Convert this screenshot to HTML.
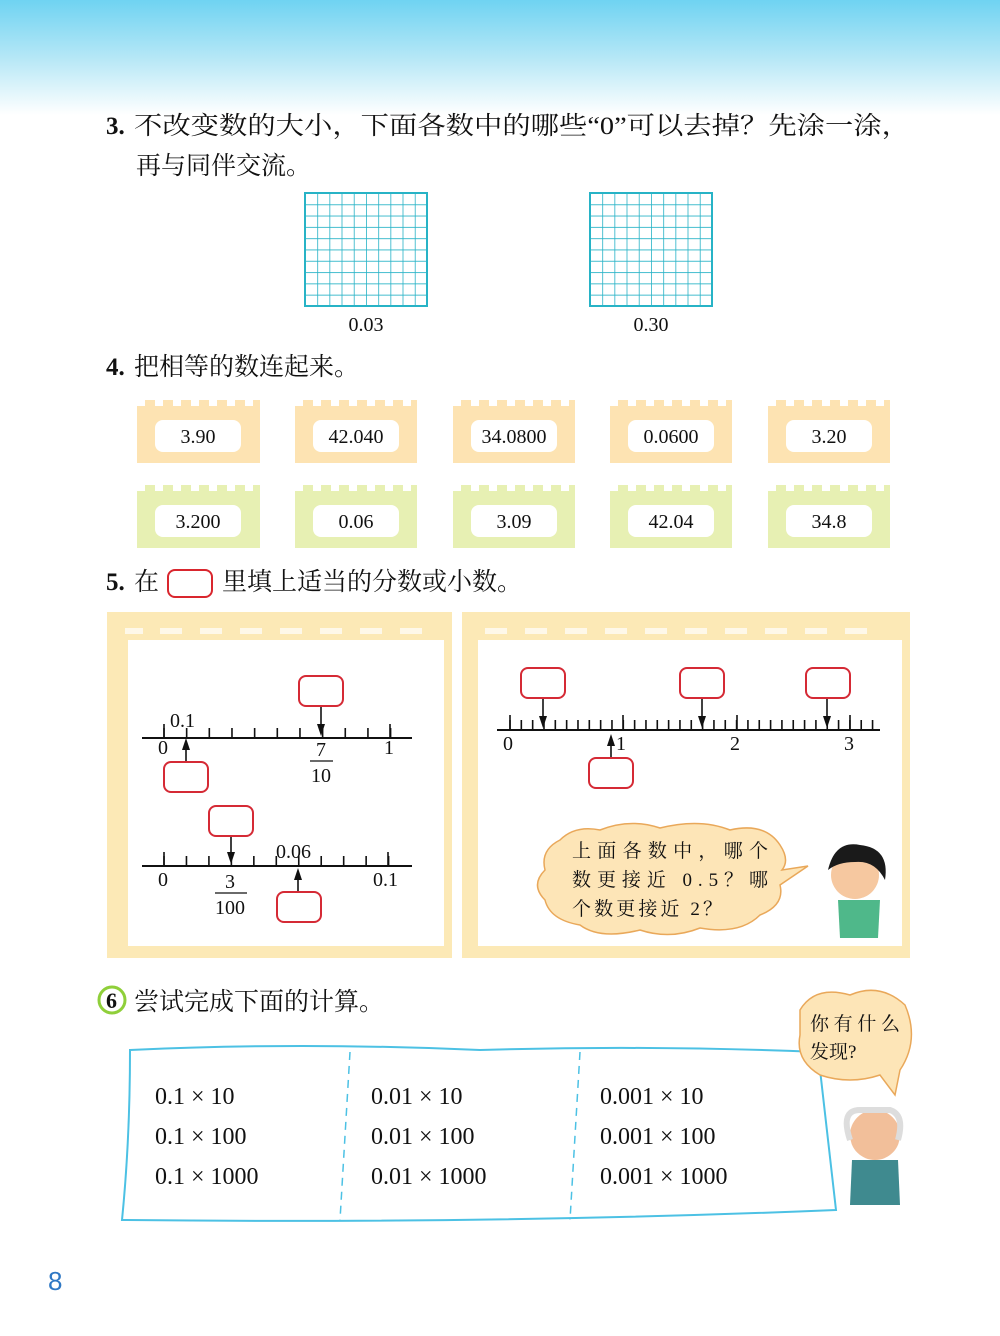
<!DOCTYPE html>
<html><head><meta charset="utf-8"><style>
html,body{margin:0;padding:0;background:#fff}
svg{display:block}
text{font-family:"Liberation Serif","Noto Serif CJK SC",serif;fill:#111}
.cn{font-family:"Liberation Serif","Noto Serif CJK SC",serif}
</style></head><body>
<svg width="1000" height="1336" viewBox="0 0 1000 1336" xmlns="http://www.w3.org/2000/svg">
<defs>
<linearGradient id="sky" x1="0" y1="0" x2="0" y2="1">
<stop offset="0" stop-color="#6fd3f2"/><stop offset="0.5" stop-color="#b5e7f6"/><stop offset="1" stop-color="#ffffff"/>
</linearGradient>
<pattern id="g1" x="305" y="193" width="12.2" height="11.3" patternUnits="userSpaceOnUse">
<path d="M0 0H12.2M0 0V11.3" stroke="#27b3c6" stroke-width="1.6" fill="none"/></pattern>
<pattern id="g2" x="590" y="193" width="12.2" height="11.3" patternUnits="userSpaceOnUse">
<path d="M0 0H12.2M0 0V11.3" stroke="#27b3c6" stroke-width="1.6" fill="none"/></pattern>
</defs>
<rect x="0" y="0" width="1000" height="115" fill="url(#sky)"/>

<!-- Q3 -->
<text x="106" y="134" font-size="25" font-weight="bold">3.</text>
<text x="134" y="134" font-size="25" class="cn" textLength="776" lengthAdjust="spacingAndGlyphs">不改变数的大小，下面各数中的哪些“0”可以去掉？先涂一涂，</text>
<text x="136" y="174" font-size="25" class="cn">再与同伴交流。</text>
<rect x="305" y="193" width="122" height="113" fill="url(#g1)" stroke="#27b3c6" stroke-width="2"/>
<rect x="590" y="193" width="122" height="113" fill="url(#g2)" stroke="#27b3c6" stroke-width="2"/>
<text x="366" y="331" font-size="20" text-anchor="middle">0.03</text>
<text x="651" y="331" font-size="20" text-anchor="middle">0.30</text>

<!-- Q4 -->
<text x="106" y="375" font-size="25" font-weight="bold">4.</text>
<text x="134" y="375" font-size="25" class="cn">把相等的数连起来。</text>
<g font-size="20">
<g fill="#fde3b2">
<path d="M137 463V406h8v-6h10v6h8v-6h10v6h8v-6h10v6h8v-6h10v6h8v-6h10v6h8v-6h10v6h8v-6h7v63Z"/>
<path d="M295 463V406h8v-6h10v6h8v-6h10v6h8v-6h10v6h8v-6h10v6h8v-6h10v6h8v-6h10v6h8v-6h6v63Z"/>
<path d="M453 463V406h8v-6h10v6h8v-6h10v6h8v-6h10v6h8v-6h10v6h8v-6h10v6h8v-6h10v6h8v-6h6v63Z"/>
<path d="M610 463V406h8v-6h10v6h8v-6h10v6h8v-6h10v6h8v-6h10v6h8v-6h10v6h8v-6h10v6h8v-6h6v63Z"/>
<path d="M768 463V406h8v-6h10v6h8v-6h10v6h8v-6h10v6h8v-6h10v6h8v-6h10v6h8v-6h10v6h8v-6h6v63Z"/>
</g>
<g fill="#e7f0b3">
<path d="M137 548V491h8v-6h10v6h8v-6h10v6h8v-6h10v6h8v-6h10v6h8v-6h10v6h8v-6h10v6h8v-6h7v63Z"/>
<path d="M295 548V491h8v-6h10v6h8v-6h10v6h8v-6h10v6h8v-6h10v6h8v-6h10v6h8v-6h10v6h8v-6h6v63Z"/>
<path d="M453 548V491h8v-6h10v6h8v-6h10v6h8v-6h10v6h8v-6h10v6h8v-6h10v6h8v-6h10v6h8v-6h6v63Z"/>
<path d="M610 548V491h8v-6h10v6h8v-6h10v6h8v-6h10v6h8v-6h10v6h8v-6h10v6h8v-6h10v6h8v-6h6v63Z"/>
<path d="M768 548V491h8v-6h10v6h8v-6h10v6h8v-6h10v6h8v-6h10v6h8v-6h10v6h8v-6h10v6h8v-6h6v63Z"/>
</g>
<g fill="#fff">
<rect x="155" y="420" width="86" height="32" rx="8"/><rect x="313" y="420" width="86" height="32" rx="8"/>
<rect x="471" y="420" width="86" height="32" rx="8"/><rect x="628" y="420" width="86" height="32" rx="8"/>
<rect x="786" y="420" width="86" height="32" rx="8"/>
<rect x="155" y="505" width="86" height="32" rx="8"/><rect x="313" y="505" width="86" height="32" rx="8"/>
<rect x="471" y="505" width="86" height="32" rx="8"/><rect x="628" y="505" width="86" height="32" rx="8"/>
<rect x="786" y="505" width="86" height="32" rx="8"/>
</g>
<g text-anchor="middle">
<text x="198" y="443">3.90</text><text x="356" y="443">42.040</text><text x="514" y="443">34.0800</text><text x="671" y="443">0.0600</text><text x="829" y="443">3.20</text>
<text x="198" y="528">3.200</text><text x="356" y="528">0.06</text><text x="514" y="528">3.09</text><text x="671" y="528">42.04</text><text x="829" y="528">34.8</text>
</g>
</g>

<!-- Q5 -->
<text x="106" y="590" font-size="25" font-weight="bold">5.</text>
<text x="134" y="590" font-size="25" class="cn">在</text>
<rect x="168" y="570" width="44" height="27" rx="7" fill="none" stroke="#d9262e" stroke-width="2"/>
<text x="222" y="590" font-size="25" class="cn">里填上适当的分数或小数。</text>

<rect x="107" y="612" width="345" height="346" fill="#fce9b6"/>
<rect x="128" y="640" width="316" height="306" fill="#fff"/>
<rect x="462" y="612" width="448" height="346" fill="#fce9b6"/>
<rect x="478" y="640" width="424" height="306" fill="#fff"/>
<g fill="#fff" opacity="0.7">
<rect x="125" y="628" width="18" height="6"/><rect x="160" y="628" width="22" height="6"/><rect x="200" y="628" width="22" height="6"/><rect x="240" y="628" width="22" height="6"/><rect x="280" y="628" width="22" height="6"/><rect x="320" y="628" width="22" height="6"/><rect x="360" y="628" width="22" height="6"/><rect x="400" y="628" width="22" height="6"/>
<rect x="485" y="628" width="22" height="6"/><rect x="525" y="628" width="22" height="6"/><rect x="565" y="628" width="22" height="6"/><rect x="605" y="628" width="22" height="6"/><rect x="645" y="628" width="22" height="6"/><rect x="685" y="628" width="22" height="6"/><rect x="725" y="628" width="22" height="6"/><rect x="765" y="628" width="22" height="6"/><rect x="805" y="628" width="22" height="6"/><rect x="845" y="628" width="22" height="6"/>
</g>

<g stroke="#111" fill="none">
<line x1="142" y1="738" x2="412" y2="738" stroke-width="2"/>
<line x1="163.2" y1="733" x2="392" y2="733" stroke-width="10" stroke-dasharray="1.6 21.06"/>
<line x1="164" y1="724" x2="164" y2="738" stroke-width="1.6"/><line x1="390" y1="724" x2="390" y2="738" stroke-width="1.6"/>
<line x1="186" y1="762" x2="186" y2="748" stroke-width="1.6"/>
<line x1="321" y1="705" x2="321" y2="726" stroke-width="1.6"/>
<line x1="142" y1="866" x2="412" y2="866" stroke-width="2"/>
<line x1="163.2" y1="861" x2="392" y2="861" stroke-width="10" stroke-dasharray="1.6 20.86"/>
<line x1="164" y1="852" x2="164" y2="866" stroke-width="1.6"/><line x1="388" y1="852" x2="388" y2="866" stroke-width="1.6"/>
<line x1="231" y1="836" x2="231" y2="854" stroke-width="1.6"/>
<line x1="298" y1="892" x2="298" y2="878" stroke-width="1.6"/>
<line x1="497" y1="730" x2="880" y2="730" stroke-width="2"/>
<line x1="509.2" y1="725" x2="875" y2="725" stroke-width="10" stroke-dasharray="1.6 9.73"/>
<line x1="510" y1="715" x2="510" y2="730" stroke-width="1.6"/><line x1="623" y1="715" x2="623" y2="730" stroke-width="1.6"/><line x1="737" y1="715" x2="737" y2="730" stroke-width="1.6"/><line x1="850" y1="715" x2="850" y2="730" stroke-width="1.6"/>
<line x1="543" y1="697" x2="543" y2="718" stroke-width="1.6"/>
<line x1="702" y1="697" x2="702" y2="718" stroke-width="1.6"/>
<line x1="827" y1="697" x2="827" y2="718" stroke-width="1.6"/>
<line x1="611" y1="760" x2="611" y2="744" stroke-width="1.6"/>
</g>
<g fill="#111">
<path d="M182 750L186 738L190 750Z"/>
<path d="M317 724L321 736L325 724Z"/>
<path d="M227 852L231 864L235 852Z"/>
<path d="M294 880L298 868L302 880Z"/>
<path d="M539 716L543 728L547 716Z"/>
<path d="M698 716L702 728L706 716Z"/>
<path d="M823 716L827 728L831 716Z"/>
<path d="M607 746L611 734L615 746Z"/>
</g>
<g fill="#fff" stroke="#d52a35" stroke-width="2">
<rect x="299" y="676" width="44" height="30" rx="7"/><rect x="164" y="762" width="44" height="30" rx="7"/>
<rect x="209" y="806" width="44" height="30" rx="7"/><rect x="277" y="892" width="44" height="30" rx="7"/>
<rect x="521" y="668" width="44" height="30" rx="7"/><rect x="680" y="668" width="44" height="30" rx="7"/><rect x="806" y="668" width="44" height="30" rx="7"/>
<rect x="589" y="758" width="44" height="30" rx="7"/>
</g>
<g font-size="20">
<text x="170" y="727">0.1</text><text x="158" y="754">0</text><text x="384" y="754">1</text>
<text x="321" y="756" text-anchor="middle">7</text><line x1="310" y1="761" x2="333" y2="761" stroke="#111" stroke-width="1.3"/><text x="321" y="782" text-anchor="middle">10</text>
<text x="276" y="858">0.06</text><text x="158" y="886">0</text><text x="373" y="886">0.1</text>
<text x="230" y="888" text-anchor="middle">3</text><line x1="215" y1="893" x2="247" y2="893" stroke="#111" stroke-width="1.3"/><text x="230" y="914" text-anchor="middle">100</text>
<text x="503" y="750">0</text><text x="616" y="750">1</text><text x="730" y="750">2</text><text x="844" y="750">3</text>
</g>
<path d="M560 840 Q575 825 600 830 Q630 818 660 828 Q700 818 730 830 Q765 822 780 845 Q790 860 782 870 L808 866 L780 885 Q785 905 760 915 Q740 935 700 928 Q670 940 640 930 Q600 940 580 925 Q550 920 545 900 Q530 885 545 870 Q540 850 560 840Z" fill="#fde5b7" stroke="#e9a85a" stroke-width="1.5"/>
<g font-size="19" class="cn">
<text x="572" y="857" textLength="196" lengthAdjust="spacing">上面各数中，哪个</text>
<text x="572" y="886" textLength="196" lengthAdjust="spacing">数更接近 0.5？哪</text>
<text x="572" y="915" textLength="150" lengthAdjust="spacing">个数更接近 2？</text></g>
<circle cx="855" cy="875" r="24" fill="#f6c8a0"/><path d="M828 870 Q835 840 860 845 Q890 848 885 880 Q875 860 855 862 Q838 862 828 870Z" fill="#1a1a1a"/>
<path d="M838 900 L880 900 L878 938 L840 938Z" fill="#4fb88a"/>

<!-- Q6 -->
<circle cx="112" cy="1000" r="13" fill="none" stroke="#8fcf3a" stroke-width="3"/>
<text x="106" y="1008" font-size="22" font-weight="bold">6</text>
<text x="134" y="1010" font-size="25" class="cn">尝试完成下面的计算。</text>
<path d="M130 1050 Q300 1042 480 1050 Q650 1045 818 1052 L836 1210 Q500 1224 122 1220 Q130 1140 130 1050Z" fill="#fff" stroke="#4cc1e4" stroke-width="2"/>
<line x1="350" y1="1052" x2="340" y2="1220" stroke="#4cc1e4" stroke-width="1.5" stroke-dasharray="8 6"/>
<line x1="580" y1="1052" x2="570" y2="1220" stroke="#4cc1e4" stroke-width="1.5" stroke-dasharray="8 6"/>
<g font-size="24">
<text x="155" y="1104">0.1 × 10</text><text x="155" y="1144">0.1 × 100</text><text x="155" y="1184">0.1 × 1000</text>
<text x="371" y="1104">0.01 × 10</text><text x="371" y="1144">0.01 × 100</text><text x="371" y="1184">0.01 × 1000</text>
<text x="600" y="1104">0.001 × 10</text><text x="600" y="1144">0.001 × 100</text><text x="600" y="1184">0.001 × 1000</text>
</g>
<path d="M800 1010 Q815 985 850 995 Q880 982 905 1005 Q920 1040 900 1070 L895 1095 L880 1075 Q850 1085 820 1075 Q795 1060 800 1035Z" fill="#fde5b7" stroke="#e9a85a" stroke-width="1.5"/>
<text x="810" y="1030" font-size="19" class="cn" textLength="90" lengthAdjust="spacing">你有什么</text>
<text x="810" y="1058" font-size="19" class="cn">发现?</text>
<circle cx="875" cy="1135" r="25" fill="#f2bf9a"/><path d="M850 1140 Q840 1110 860 1110 L890 1110 Q905 1115 898 1140" fill="none" stroke="#ddd" stroke-width="6"/>
<path d="M852 1160 L898 1160 L900 1205 L850 1205Z" fill="#3f8a8f"/>
<text x="48" y="1290" font-size="26" style="font-family:'Liberation Sans',sans-serif;fill:#2f78c4">8</text>
</svg>
</body></html>
